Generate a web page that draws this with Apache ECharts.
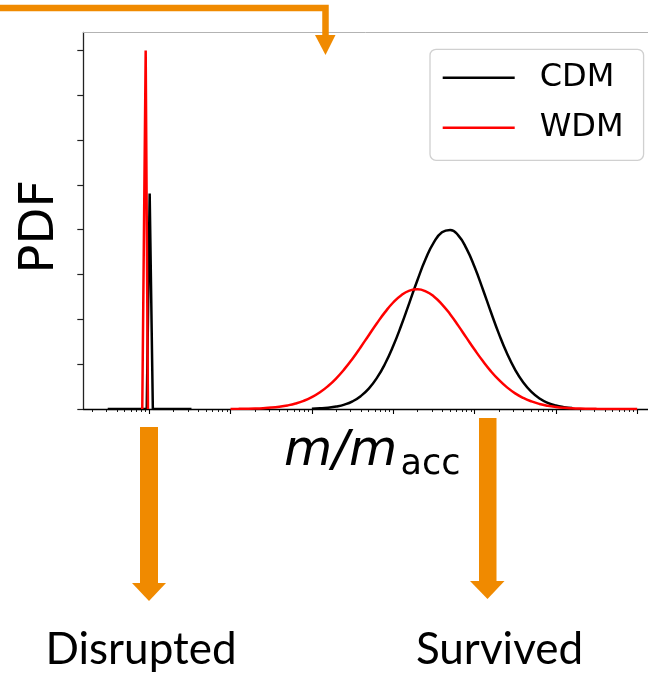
<!DOCTYPE html>
<html>
<head>
<meta charset="utf-8">
<script src="https://cdn.jsdelivr.net/npm/echarts@6/dist/echarts.min.js"></script>
<style>
  html, body { margin: 0; padding: 0; background: #ffffff; }
  #chart { width: 648px; height: 675px; }
</style>
</head>
<body>
<div id="chart"></div>
<script>
// Subhalo mass-ratio PDFs against log10(m/m_acc); the x axis is a decade (log) axis.
// Disrupted population (narrow spikes near 1e-6)
const cdmDisruptedLogM = [-6.51, -6.03, -5.994, -5.955, -5.48];
const cdmDisruptedPdf  = [0, 0, 4.81, 0, 0];
const wdmDisruptedLogM = [-6.085, -6.043, -6.015];
const wdmDisruptedPdf  = [0, 8.0, 0];

// Surviving population (broad bumps)
const cdmSurvivedLogM = [-4.0, -3.9, -3.8, -3.7, -3.6, -3.5, -3.4, -3.3, -3.2, -3.1,
                         -3.0, -2.9, -2.8, -2.7, -2.6, -2.5, -2.4, -2.3, -2.2, -2.1,
                         -2.0, -1.9, -1.8, -1.7, -1.6, -1.5, -1.4, -1.3, -1.2, -1.1,
                         -1.0, -0.9, -0.8];
const cdmSurvivedPdf  = [0.007, 0.014, 0.028, 0.054, 0.098, 0.171, 0.286, 0.455, 0.693, 1.009,
                         1.404, 1.868, 2.375, 2.885, 3.350, 3.717, 3.942, 3.996, 3.872, 3.585,
                         3.172, 2.683, 2.169, 1.676, 1.237, 0.873, 0.589, 0.380, 0.234, 0.138,
                         0.077, 0.042, 0.021];
const wdmSurvivedLogM = [-5.0, -4.9, -4.8, -4.7, -4.6, -4.5, -4.4, -4.3, -4.2, -4.1,
                         -4.0, -3.9, -3.8, -3.7, -3.6, -3.5, -3.4, -3.3, -3.2, -3.1,
                         -3.0, -2.9, -2.8, -2.7, -2.6, -2.5, -2.4, -2.3, -2.2, -2.1,
                         -2.0, -1.9, -1.8, -1.7, -1.6, -1.5, -1.4, -1.3, -1.2, -1.1,
                         -1.0, -0.9, -0.8, -0.7, -0.6, -0.5, -0.4, -0.3, -0.2, -0.1, 0.0];
const wdmSurvivedPdf  = [0.002, 0.003, 0.006, 0.011, 0.019, 0.031, 0.051, 0.080, 0.122, 0.182,
                         0.265, 0.373, 0.513, 0.685, 0.889, 1.122, 1.379, 1.647, 1.913, 2.161,
                         2.376, 2.539, 2.640, 2.670, 2.625, 2.511, 2.336, 2.114, 1.860, 1.592,
                         1.326, 1.074, 0.845, 0.648, 0.482, 0.349, 0.246, 0.169, 0.112, 0.073,
                         0.046, 0.028, 0.017, 0.010, 0.006, 0.003, 0.002, 0.001, 0.000, 0.000, 0.000];

// Axis ticks (no tick labels are drawn): decades and the 2..9 sub-decade marks
const xMajorDecades = [-6, -5, -4, -3, -2, -1, 0];
const xMinorMultipliers = [2, 3, 4, 5, 6, 7, 8, 9];
const yTicks = [0, 1, 2, 3, 4, 5, 6, 7, 8];
// visible window of the x axis (the frame runs on past the right edge of the page)
const xLogMin = -6.81, xLogMax = 0.133;
const yMax = 8.4;

const xMinorTicks = [];
for (let n = -7; n <= 0; n++) {
  for (const k of xMinorMultipliers) {
    const v = n + Math.log10(k);
    if (v > xLogMin && v < xLogMax) xMinorTicks.push(v);
  }
}

function toPoints(logM, pdf) {
  return logM.map((l, i) => [l, pdf[i]]);
}

const ORANGE = '#f08a00';
const chart = echarts.init(document.getElementById('chart'), null, { renderer: 'canvas' });

const axisCommon = {
  type: 'value',
  min: xLogMin,
  max: xLogMax,
  axisLabel: { show: false },
  splitLine: { show: false },
  minorTick: { show: false }
};

function lineSeries(name, color, data, smooth) {
  return {
    name: name,
    type: 'line',
    data: data,
    symbol: 'none',
    showSymbol: false,
    smooth: smooth,
    silent: true,
    color: color,
    itemStyle: { color: color },
    lineStyle: { color: color, width: 2.5 }
  };
}

chart.setOption({
  animation: false,
  backgroundColor: '#ffffff',
  grid: { left: 83.3, top: 32.5, right: 0, height: 376.5, show: false },
  xAxis: [
    Object.assign({}, axisCommon, {
      position: 'bottom',
      axisLine: { show: true, onZero: false, lineStyle: { color: '#000', width: 1.3 } },
      axisTick: { show: true, customValues: xMajorDecades, length: 5, lineStyle: { color: '#000', width: 1.1 } }
    }),
    Object.assign({}, axisCommon, {
      position: 'bottom',
      axisLine: { show: false, onZero: false },
      axisTick: { show: true, customValues: xMinorTicks, length: 3, lineStyle: { color: '#000', width: 0.9 } }
    }),
    // top frame line
    Object.assign({}, axisCommon, {
      position: 'top',
      axisLine: { show: true, onZero: false, lineStyle: { color: '#b3b3b3', width: 1 } },
      axisTick: { show: false }
    })
  ],
  yAxis: {
    type: 'value',
    min: 0,
    max: yMax,
    position: 'left',
    axisLine: { show: true, onZero: false, lineStyle: { color: '#222', width: 1.3 } },
    axisTick: { show: true, customValues: yTicks, length: 6, lineStyle: { color: '#222', width: 1.2 } },
    axisLabel: { show: false },
    splitLine: { show: false },
    name: 'PDF',
    nameLocation: 'middle',
    nameRotate: 90,
    nameGap: 19,
    nameTextStyle: { fontFamily: 'DejaVu Sans', fontSize: 48, color: '#000', padding: [0, 12, 0, 0] }
  },
  legend: {
    left: 430, top: 49.3,
    orient: 'vertical',
    data: ['CDM', 'WDM'],
    icon: 'rect',
    itemWidth: 72, itemHeight: 2.4, itemGap: 14,
    padding: [10.5, 20, 14.5, 12.7],
    backgroundColor: 'rgba(255,255,255,0.8)',
    borderColor: '#d0d0d0', borderWidth: 1.3, borderRadius: 6,
    selectedMode: false,
    itemStyle: { borderWidth: 0 },
    textStyle: { fontFamily: 'DejaVu Sans', fontSize: 32, color: '#000', lineHeight: 36, padding: [0, 0, 0, 20] }
  },
  series: [
    lineSeries('CDM', '#000000', toPoints(cdmDisruptedLogM, cdmDisruptedPdf), false),
    lineSeries('CDM', '#000000', toPoints(cdmSurvivedLogM, cdmSurvivedPdf), true),
    lineSeries('WDM', '#ff0000', toPoints(wdmDisruptedLogM, wdmDisruptedPdf), false),
    lineSeries('WDM', '#ff0000', toPoints(wdmSurvivedLogM, wdmSurvivedPdf), true)
  ],
  graphic: [
    // elbow arrow from the top edge into the plot
    { type: 'polyline', z: 100, shape: { points: [[0, 8], [325.5, 8], [325.5, 37]] },
      style: { stroke: ORANGE, lineWidth: 6.5, fill: null, lineJoin: 'miter' } },
    { type: 'polygon', z: 100, shape: { points: [[315, 35], [335.5, 35], [325.5, 55]] },
      style: { fill: ORANGE } },
    // downward arrows to the two outcomes
    { type: 'rect', z: 100, shape: { x: 140, y: 427, width: 18, height: 157 }, style: { fill: ORANGE } },
    { type: 'polygon', z: 100, shape: { points: [[132, 583], [166, 583], [149, 601]] }, style: { fill: ORANGE } },
    { type: 'rect', z: 100, shape: { x: 479, y: 418, width: 17.5, height: 164 }, style: { fill: ORANGE } },
    { type: 'polygon', z: 100, shape: { points: [[470, 581], [504.5, 581], [487.5, 599]] }, style: { fill: ORANGE } },
    // x-axis title m/m_acc
    { type: 'text', z: 100, style: { text: 'm/m', x: 284, y: 452.0, fill: '#000',
      font: 'italic 49.5px "DejaVu Sans"', textAlign: 'left', textVerticalAlign: 'middle' } },
    { type: 'text', z: 100, style: { text: 'acc', x: 400.5, y: 464.6, fill: '#000',
      font: '35px "DejaVu Sans"', textAlign: 'left', textVerticalAlign: 'middle' } },
    // outcome captions
    { type: 'text', z: 100, style: { text: 'Disrupted', x: 141, y: 650, fill: '#000',
      font: '44px Lato', textAlign: 'center', textVerticalAlign: 'middle' } },
    { type: 'text', z: 100, style: { text: 'Survived', x: 499.5, y: 650, fill: '#000',
      font: '44px Lato', textAlign: 'center', textVerticalAlign: 'middle' } }
  ]
});
</script>
</body>
</html>
